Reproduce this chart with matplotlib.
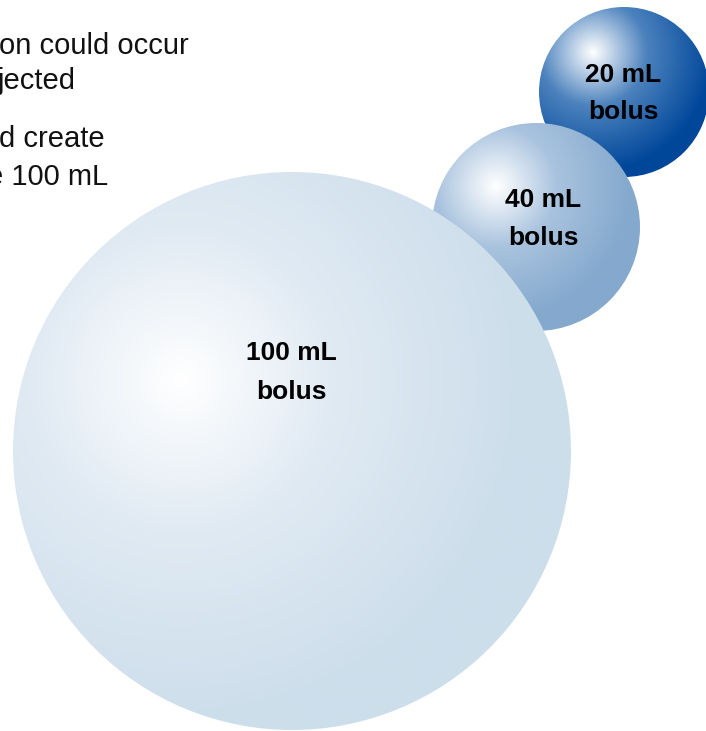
import numpy as np
import matplotlib
matplotlib.use("Agg")
import matplotlib.pyplot as plt
from matplotlib.patches import Circle
from matplotlib.colors import LinearSegmentedColormap

# ---- data ----
bolus_volumes = [100, 40, 20]
bolus_labels = ["100 mL\nbolus", "40 mL\nbolus", "20 mL\nbolus"]
caption_lines = ["on could occur", "jected", "d create", "e 100 mL"]

# ---- layout (pixel coordinates, y down) ----
centers = [(292, 451), (536, 227), (624, 92)]
radii = [279, 104, 85]
highlights = [(182, 380), (496, 186), (593, 52)]
grad_radius = [340, 135, 120]
edge_colors = ["#cddeeb", "#84a9cd", "#00479a"]
mid_colors = ["#e0eaf3", "#a9c3de", "#4c82bd"]
zorders = [3, 2, 1]
label_pos = [(291, 360, 399), (543, 207, 245), (623, 82, 119)]
caption_pos = [(-1, 54), (-2, 89), (-1, 147), (-13, 185)]

W, H = 706, 731
fig = plt.figure(figsize=(W / 100, H / 100), dpi=100)
ax = fig.add_axes([0, 0, 1, 1])
ax.set_xlim(0, W)
ax.set_ylim(H, 0)
ax.set_aspect("auto")
ax.axis("off")

for vol, lab, (cx, cy), R, (hx, hy), gr, ec, mc, z, (lx, ly1, ly2) in zip(
        bolus_volumes, bolus_labels, centers, radii, highlights, grad_radius,
        edge_colors, mid_colors, zorders, label_pos):
    cmap = LinearSegmentedColormap.from_list(
        "g%d" % vol, [(0.0, "#ffffff"), (0.45, mc), (1.0, ec)])
    n = int(2 * R) + 2
    xs = np.linspace(cx - R, cx + R, n)
    ys = np.linspace(cy - R, cy + R, n)
    X, Y = np.meshgrid(xs, ys)
    d = np.hypot(X - hx, Y - hy) / gr
    t = np.clip(d, 0, 1)
    rgb = cmap(t)
    im = ax.imshow(rgb, extent=[cx - R, cx + R, cy + R, cy - R],
                   origin="upper", zorder=z, interpolation="bilinear")
    clip = Circle((cx, cy), R, transform=ax.transData)
    im.set_clip_path(clip)
    l1, l2 = lab.split("\n")
    ax.text(lx, ly1, l1, ha="center", va="baseline", fontsize=19,
            fontweight="bold", family="Liberation Sans", color="#000000",
            zorder=10)
    ax.text(lx, ly2, l2, ha="center", va="baseline", fontsize=19,
            fontweight="bold", family="Liberation Sans", color="#000000",
            zorder=10)

for line, (x, y) in zip(caption_lines, caption_pos):
    ax.text(x, y, line, ha="left", va="baseline", fontsize=21,
            family="Liberation Sans", color="#111111", zorder=10)

ax.set_xlim(0, W)
ax.set_ylim(H, 0)
fig.savefig("out.png", dpi=100)
